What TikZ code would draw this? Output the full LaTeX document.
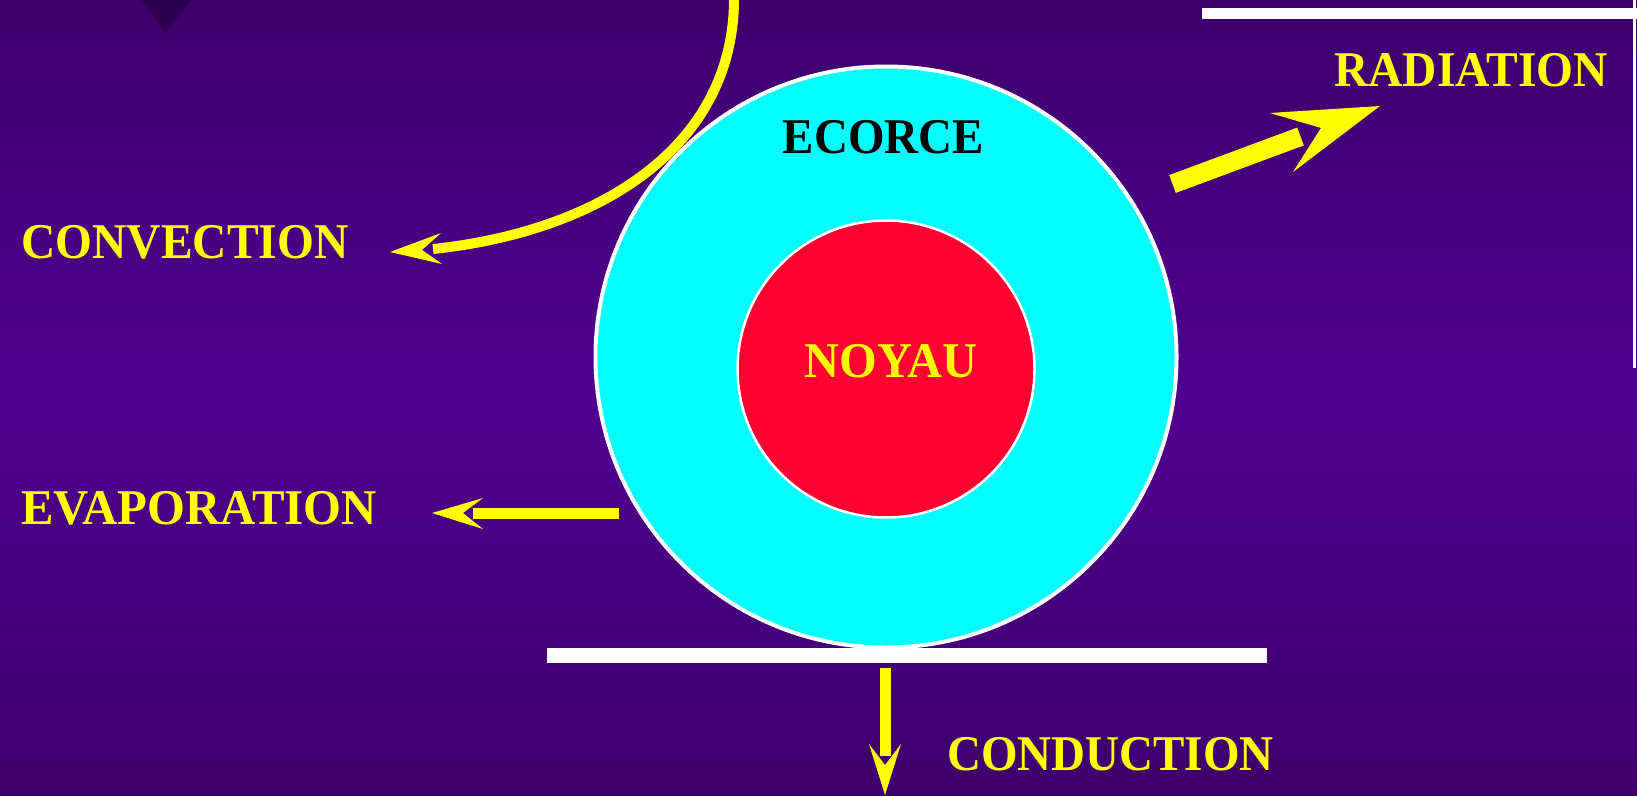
\documentclass[tikz,border=0pt]{standalone}
\usepackage{fontspec}
\setmainfont{Liberation Serif}
\definecolor{bgdark}{RGB}{62,0,108}
\definecolor{bgmid}{RGB}{80,0,143}
\definecolor{tri}{RGB}{44,0,80}
\definecolor{ecyan}{RGB}{0,255,255}
\definecolor{nred}{RGB}{255,0,51}
\definecolor{ayel}{RGB}{255,255,0}
\tikzset{
  lbl/.style={inner sep=0pt, font=\bfseries\fontsize{50}{50}\selectfont, text=ayel},
  shaft/.style={draw=ayel, line width=11pt},
  head/.style={fill=ayel},
  wbar/.style={fill=white}
}
\begin{document}
\begin{tikzpicture}[x=1pt,y=-1pt]
\useasboundingbox (0,0) rectangle (1637,795);
\shade[top color=bgdark, bottom color=bgdark, middle color=bgmid] (0,0) rectangle (1637,795);
% decorative triangle top-left
\fill[tri] (141,0) -- (191,0) -- (166,33) -- cycle;
% top right white bar and line
\fill[wbar] (1202,8) rectangle (1637,19);
\fill[wbar] (1633,0) rectangle (1636,368);
% circles
\node[circle, fill=ecyan, draw=white, line width=4pt, minimum size=581pt, inner sep=0pt] (ecorce) at (886,357) {};
\node[circle, fill=nred, draw=white, line width=2.5pt, minimum size=297pt, inner sep=0pt] (noyau) at (886,369) {};
\node[lbl, text=black, xscale=0.94] (tecorce) at (883.5,137.5) {ECORCE};
\node[lbl, xscale=0.97] (tnoyau) at (891,361.5) {NOYAU};
% bottom white bar
\fill[wbar] (547,648) rectangle (1267,663);
% labels
\node[lbl, anchor=west, xscale=0.95] (tconv) at (21,242) {CONVECTION};
\node[lbl, anchor=west, xscale=0.975] (tevap) at (21,508) {EVAPORATION};
\node[lbl, anchor=west, xscale=0.94] (tcond) at (947,754) {CONDUCTION};
\node[lbl, anchor=west, xscale=0.95] (trad) at (1334,70.5) {RADIATION};
% convection arrow
\coordinate (cvs) at (734,0);
\coordinate (cve) at (433,249);
\draw[draw=ayel, line width=10pt] (cvs) .. controls (733,150) and (595,232) .. (cve);
\fill[head] (390,252) -- (441,233) -- (422,250) -- (442,264) -- cycle;
% evaporation arrow
\coordinate (evs) at (619,513.5);
\coordinate (eve) at (473,513.5);
\draw[shaft] (evs) -- (eve);
\fill[head] (432,513) -- (483,498) -- (463,513) -- (483,529) -- cycle;
% conduction arrow
\coordinate (cds) at (885.5,668);
\coordinate (cde) at (885.5,756);
\draw[shaft] (cds) -- (cde);
\fill[head] (885,795) -- (869,744) -- (885,765) -- (901,744) -- cycle;
% radiation arrow
\coordinate (rds) at (1172.5,184);
\coordinate (rde) at (1300.5,136.5);
\draw[draw=ayel, line width=19pt] (rds) -- (rde);
\fill[head] (1380,106) -- (1270,113) -- (1321,128) -- (1293,172) -- cycle;
\end{tikzpicture}
\end{document}
